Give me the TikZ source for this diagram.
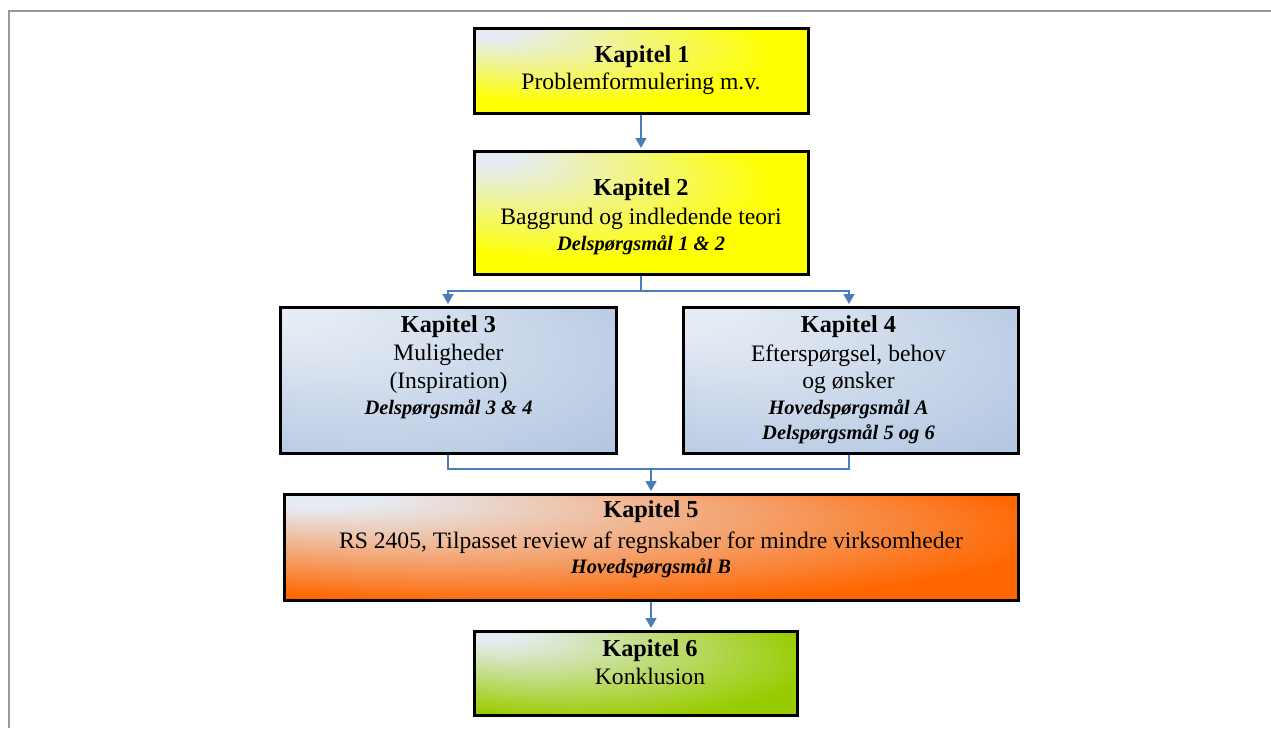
\documentclass[tikz,border=0pt]{standalone}
\usepackage{fontspec}
\setmainfont{Liberation Serif}
\usetikzlibrary{arrows.meta}
\definecolor{pale}{HTML}{E6ECF4}
\definecolor{yfull}{HTML}{FFFF00}
\definecolor{bfull}{HTML}{B4C7E2}
\definecolor{ofull}{HTML}{FF6600}
\definecolor{gfull}{HTML}{99CC00}
\definecolor{connc}{HTML}{4A7EBB}
\definecolor{framec}{HTML}{999999}
\pgfdeclareradialshading{yshade}{\pgfpoint{-25bp}{25bp}}{color(0bp)=(pale); color(4bp)=(pale); color(30bp)=(yfull); color(50bp)=(yfull)}
\pgfdeclareradialshading{bshade}{\pgfpoint{-25bp}{25bp}}{color(0bp)=(pale); color(4bp)=(pale); color(40bp)=(bfull); color(50bp)=(bfull)}
\pgfdeclareradialshading{oshade}{\pgfpoint{-25bp}{25bp}}{color(0bp)=(pale); color(4bp)=(pale); color(35bp)=(ofull); color(50bp)=(ofull)}
\pgfdeclareradialshading{gshade}{\pgfpoint{-25bp}{25bp}}{color(0bp)=(pale); color(4bp)=(pale); color(35bp)=(gfull); color(50bp)=(gfull)}
\tikzset{
  box/.style={draw=black, line width=3pt, rectangle, inner sep=0pt, shade},
  ybox/.style={box, shading=yshade},
  bbox/.style={box, shading=bshade},
  obox/.style={box, shading=oshade},
  gbox/.style={box, shading=gshade},
  kap/.style={anchor=base, inner sep=0pt, font=\fontsize{24.3}{28}\selectfont\bfseries},
  reg/.style={anchor=base, inner sep=0pt, font=\fontsize{23.6}{28}\selectfont},
  sub/.style={anchor=base, inner sep=0pt, font=\fontsize{20.5}{24}\selectfont\bfseries\itshape},
  conn/.style={draw=connc, line width=1.5pt, shorten >=1.5pt, -{Triangle[length=10pt,width=11pt]}},
  wire/.style={draw=connc, line width=1.5pt}
}
\begin{document}
\begin{tikzpicture}[x=1pt,y=-1pt]
\useasboundingbox (0,0) rectangle (1271,728);
\draw[framec, line width=2pt] (9,728) -- (9,11) -- (1271,11);

\node[ybox, minimum width=334pt, minimum height=85pt] (k1) at (641,70.5) {};
\node[ybox, minimum width=334pt, minimum height=123pt] (k2) at (641,212.5) {};
\node[bbox, minimum width=336pt, minimum height=146pt] (k3) at (448,380) {};
\node[bbox, minimum width=335pt, minimum height=146pt] (k4) at (850.5,380) {};
\node[obox, minimum width=734pt, minimum height=106pt] (k5) at (651,547) {};
\node[gbox, minimum width=323pt, minimum height=84pt] (k6) at (635.5,673) {};

\node[kap] (t1a) at (642,62.5) {Kapitel 1};
\node[reg] (t1b) at (641,89) {Problemformulering m.v.};

\node[kap] (t2a) at (641,195) {Kapitel 2};
\node[reg] (t2b) at (641,224) {Baggrund og indledende teori};
\node[sub] (t2c) at (641,250) {Delspørgsmål 1 \& 2};

\node[kap] (t3a) at (448.5,332.5) {Kapitel 3};
\node[reg] (t3b) at (448.5,360.5) {Muligheder};
\node[reg] (t3c) at (448.5,388.3) {(Inspiration)};
\node[sub] (t3d) at (448.5,414) {Delspørgsmål 3 \& 4};

\node[kap] (t4a) at (848.5,332.5) {Kapitel 4};
\node[reg] (t4b) at (848.5,361) {Efterspørgsel, behov};
\node[reg] (t4c) at (848.5,388.3) {og ønsker};
\node[sub] (t4d) at (848.5,414) {Hovedspørgsmål A};
\node[sub] (t4e) at (848.5,439) {Delspørgsmål 5 og 6};

\node[kap] (t5a) at (651,517.3) {Kapitel 5};
\node[reg] (t5b) at (651,548.5) {RS 2405, Tilpasset review af regnskaber for mindre virksomheder};
\node[sub] (t5c) at (651,573) {Hovedspørgsmål B};

\node[kap] (t6a) at (650,656.5) {Kapitel 6};
\node[reg] (t6b) at (650,684.5) {Konklusion};

\coordinate (j1) at (641,291);
\coordinate (j2) at (651,469);
\draw[conn] (k1.south) -- (k2.north);
\draw[wire] (k2.south) -- (j1);
\draw[conn] (j1) -| (k3.north);
\draw[conn] (j1) -| ([xshift=-1.5pt]k4.north);
\draw[wire] (k3.south) |- (j2);
\draw[wire] ([xshift=-1.5pt]k4.south) |- (j2);
\draw[conn] (j2) -- (k5.north);
\draw[conn] (k5.south) -- (k5.south |- k6.north);
\end{tikzpicture}
\end{document}
